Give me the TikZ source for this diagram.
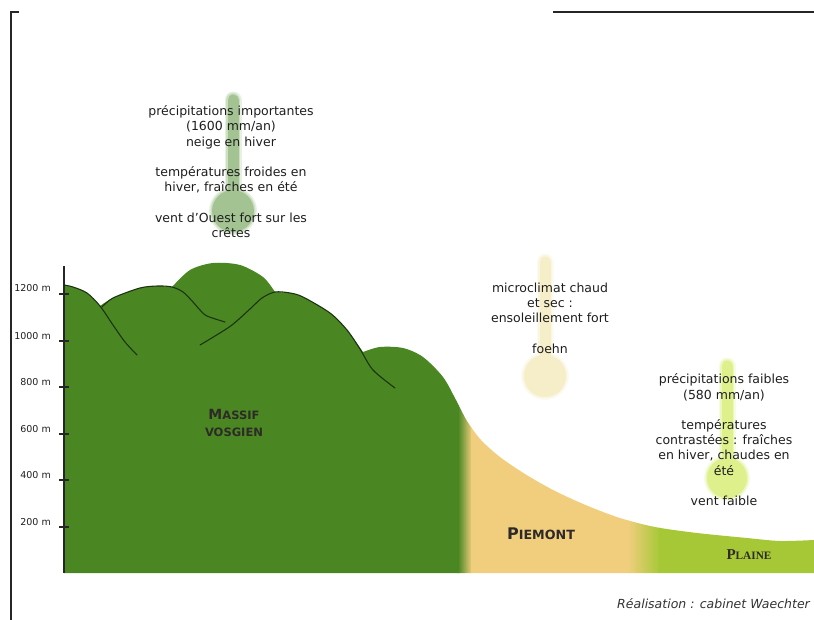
\documentclass[tikz,border=0pt]{standalone}
\usepackage{fontspec}
\setmainfont{DejaVu Sans}
\newfontfamily\plainefont{Liberation Serif}
\definecolor{massif}{HTML}{4A8723}
\definecolor{ridge}{HTML}{1C3311}
\definecolor{piemont}{HTML}{F0CE7D}
\definecolor{plaine}{HTML}{A6C837}
\definecolor{thermoA}{HTML}{A3C492}
\definecolor{thermoB}{HTML}{F5EEC8}
\definecolor{thermoC}{HTML}{DDF08C}
\definecolor{inktext}{HTML}{1E1E1E}
\begin{document}
\begin{tikzpicture}[x=1pt,y=-1pt,
  frameline/.style={line width=1.6pt,black!85},
  ridgeline/.style={line width=1.1pt,ridge,line cap=round,line join=round},
  infotext/.style={font=\fontsize{12.5}{15.3}\selectfont,align=center,inner sep=0pt,text=inktext},
  axislabel/.style={font=\fontsize{9.5}{11}\selectfont,inner sep=0pt,text=inktext,anchor=base east},
  zonelabel/.style={inner sep=0pt,text=black!90!olive,align=center},
  creditstyle/.style={font=\fontsize{12.5}{15}\selectfont\itshape,inner sep=0pt,text=black!80,anchor=base east}]
\useasboundingbox (0,0) rectangle (814,620);

% page frame fragments
\draw[frameline] (19,12) -- (11,12) -- (11,620);
\draw[frameline] (553,12) -- (814,12);

% thermometers: soft halo then solid body
\foreach \cx/\ty/\cy/\r/\col in {233/100/211/21/thermoA, 545/262/376/21/thermoB, 727/366/478/20/thermoC}{
  \draw[line width=17pt,\col!25!white,line cap=round] (\cx,\ty) -- (\cx,\cy);
  \fill[\col!25!white] (\cx,\cy) circle ({\r+3});
  \draw[line width=14pt,\col!55!white,line cap=round] (\cx,\ty) -- (\cx,\cy);
  \fill[\col!55!white] (\cx,\cy) circle ({\r+1.5});
  \draw[line width=11pt,\col,line cap=round] (\cx,\ty) -- (\cx,\cy);
  \fill[\col] (\cx,\cy) circle (\r);
}

% relief profile filled with the three zones
\begin{scope}
\clip (64,573) -- (64,285)
  -- plot[smooth] coordinates {(64,285) (73,287) (87,293) (100,306)}
  -- plot[smooth] coordinates {(100,306) (113,298) (140,288) (158,286) (172,287)}
  -- plot[smooth] coordinates {(172,287) (190,270) (213,263) (240,265) (263,277) (275,292)}
  -- plot[smooth] coordinates {(275,292) (290,293) (303,297) (330,313) (347,330) (363,352)}
  -- plot[smooth] coordinates {(363,352) (380,347) (403,348) (423,357) (443,377) (456,400) (467,421) (481,440) (500,457) (525,474) (555,491) (588,506) (620,518) (655,527) (697,533) (747,538) (780,541) (814,540)}
  -- (814,573) -- cycle;
\fill[massif] (60,250) rectangle (459,580);
\shade[left color=massif,right color=piemont] (458,250) rectangle (472,580);
\fill[piemont] (471,250) rectangle (629,580);
\shade[left color=piemont,right color=plaine] (628,250) rectangle (660,580);
\fill[plaine] (659,250) rectangle (815,580);
\end{scope}

% crest lines
\draw[ridgeline] plot[smooth] coordinates {(64,285) (73,287) (87,293) (100,306) (113,325) (125,342) (137,355)};
\draw[ridgeline] plot[smooth] coordinates {(102,307) (113,298) (140,288) (158,286) (172,287) (183,292) (193,302) (200,310) (207,316) (225,322)};
\draw[ridgeline] plot[smooth] coordinates {(200,345) (215,336) (232,325) (250,309) (262,298) (275,292) (290,293) (303,297) (330,313) (347,330) (360,349) (373,370) (395,388)};

% altitude axis
\draw[line width=1.2pt,black!85] (64,266) -- (64,573);
\foreach \yy/\lab in {294/1200, 341/1000, 387/800, 434/600, 480/400, 527/200}{
  \draw[line width=1.2pt,black!85] (59,\yy) -- (69,\yy);
  \node[axislabel] (alt\lab) at (51,\yy-2) {\lab\ m};
}

% zone names
\node[zonelabel,font=\bfseries] (massiflabel) at (234,423) {{\fontsize{14}{16}\selectfont M}{\fontsize{11.5}{16}\selectfont ASSIF}\\[5pt]{\fontsize{11.5}{16}\selectfont VOSGIEN}};
\node[zonelabel,font=\bfseries] (piemontlabel) at (541,534) {{\fontsize{16}{18}\selectfont P}{\fontsize{12.7}{18}\selectfont IEMONT}};
\node[zonelabel,font=\plainefont\bfseries] (plainelabel) at (749,555) {{\fontsize{15}{18}\selectfont P}{\fontsize{11.3}{18}\selectfont LAINE}};

% climate notes
\node[infotext,anchor=north] (climvosges) at (231,105.5) {précipitations importantes\\(1600 mm/an)\\neige en hiver\\[15pt]températures froides en\\hiver, fraîches en été\\[15pt]vent d'Ouest fort sur les\\crêtes};
\node[infotext,anchor=north] (climpiemont) at (550,282.5) {microclimat chaud\\et sec :\\ensoleillement fort\\[15pt]foehn};
\node[infotext,anchor=north] (climplaine) at (724,373.5) {précipitations faibles\\(580 mm/an)\\[15pt]températures\\contrastées : fraîches\\en hiver, chaudes en\\été\\[15pt]vent faible};

% credit line
\node[creditstyle] (credit) at (810,608) {Réalisation : cabinet Waechter};
\end{tikzpicture}
\end{document}
